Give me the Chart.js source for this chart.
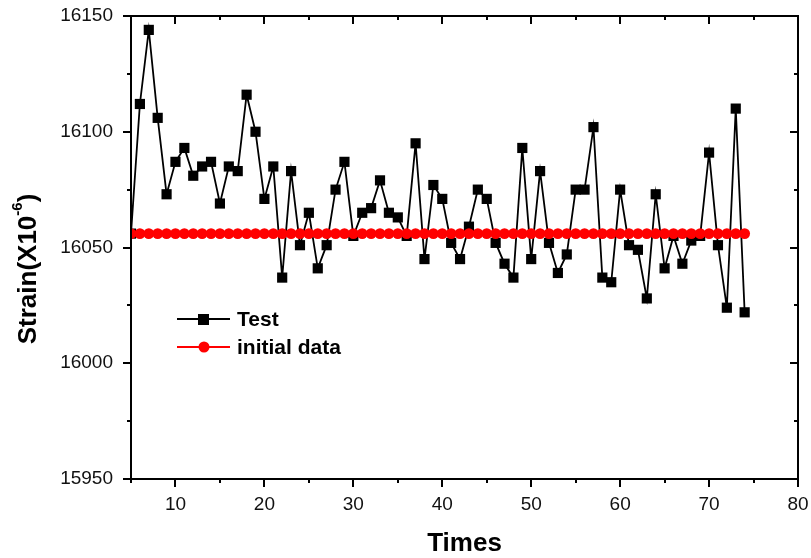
<!DOCTYPE html>
<html>
<head>
<meta charset="utf-8">
<script src="https://cdn.jsdelivr.net/npm/chart.js@4"></script>
<style>
  html, body { margin: 0; padding: 0; background: #fff; }
  #wrap { width: 811px; height: 558px; }
</style>
</head>
<body>
<div id="wrap"><canvas id="strainChart" width="811" height="558"></canvas></div>
<script>
// ── DATA ──
const times = [
   5,  6,  7,  8,  9, 10, 11, 12, 13, 14, 15, 16, 17, 18, 19, 20, 21, 22, 23, 24,
  25, 26, 27, 28, 29, 30, 31, 32, 33, 34, 35, 36, 37, 38, 39, 40, 41, 42, 43, 44,
  45, 46, 47, 48, 49, 50, 51, 52, 53, 54, 55, 56, 57, 58, 59, 60, 61, 62, 63, 64,
  65, 66, 67, 68, 69, 70, 71, 72, 73, 74
];

const testStrain = [
  16056, 16112, 16144, 16106, 16073, 16087, 16093, 16081, 16085, 16087,
  16069, 16085, 16083, 16116, 16100, 16071, 16085, 16037, 16083, 16051,
  16065, 16041, 16051, 16075, 16087, 16055, 16065, 16067, 16079, 16065,
  16063, 16055, 16095, 16045, 16077, 16071, 16052, 16045, 16059, 16075,
  16071, 16052, 16043, 16037, 16093, 16045, 16083, 16052, 16039, 16047,
  16075, 16075, 16102, 16037, 16035, 16075, 16051, 16049, 16028, 16073,
  16041, 16055, 16043, 16053, 16055, 16091, 16051, 16024, 16110, 16022
];

const initialStrain = [
  16056, 16056, 16056, 16056, 16056, 16056, 16056, 16056, 16056, 16056,
  16056, 16056, 16056, 16056, 16056, 16056, 16056, 16056, 16056, 16056,
  16056, 16056, 16056, 16056, 16056, 16056, 16056, 16056, 16056, 16056,
  16056, 16056, 16056, 16056, 16056, 16056, 16056, 16056, 16056, 16056,
  16056, 16056, 16056, 16056, 16056, 16056, 16056, 16056, 16056, 16056,
  16056, 16056, 16056, 16056, 16056, 16056, 16056, 16056, 16056, 16056,
  16056, 16056, 16056, 16056, 16056, 16056, 16056, 16056, 16056, 16056
];

const X_MIN = 5, X_MAX = 80, X_STEP = 10;
const Y_MIN = 15950, Y_MAX = 16150, Y_STEP = 50;
const seriesNames = ['Test', 'initial data'];

const FONT = "'Liberation Sans', Arial, sans-serif";

// ── FRAME, MINOR TICKS, TITLES, LEGEND ──
const framePlugin = {
  id: 'frame',
  afterDatasetsDraw(chart) {
    const { ctx, chartArea: a, scales: { x, y } } = chart;
    ctx.save();
    ctx.strokeStyle = '#000';
    ctx.lineWidth = 2;
    ctx.lineCap = 'square';
    ctx.strokeRect(a.left, a.top, a.right - a.left, a.bottom - a.top);

    ctx.lineCap = 'butt';
    ctx.beginPath();
    for (let v = X_MIN; v <= X_MAX; v += X_STEP / 2) {
      const px = Math.round(x.getPixelForValue(v));
      const len = v % X_STEP === 0 ? 8 : 4;
      ctx.moveTo(px, a.bottom); ctx.lineTo(px, a.bottom + len);   // outward
      ctx.moveTo(px, a.top);    ctx.lineTo(px, a.top + len);      // inward
    }
    for (let v = Y_MIN; v <= Y_MAX; v += Y_STEP / 2) {
      const py = Math.round(y.getPixelForValue(v));
      const len = v % Y_STEP === 0 ? 8 : 4;
      ctx.moveTo(a.left, py);  ctx.lineTo(a.left - len, py);      // outward
      ctx.moveTo(a.right, py); ctx.lineTo(a.right - len, py);     // inward
    }
    ctx.stroke();
    ctx.restore();
  },
  afterDraw(chart) {
    const { ctx, chartArea: a } = chart;
    ctx.save();
    ctx.fillStyle = '#000';

    // x title
    ctx.font = `bold 26px ${FONT}`;
    ctx.textAlign = 'center';
    ctx.textBaseline = 'alphabetic';
    ctx.fillText('Times', (a.left + a.right) / 2, 551);

    // y title with superscript
    const main = 'Strain(X10', sup = '-6', close = ')';
    ctx.font = `bold 26px ${FONT}`;
    const w1 = ctx.measureText(main).width;
    const w3 = ctx.measureText(close).width;
    ctx.font = `bold 15px ${FONT}`;
    const w2 = ctx.measureText(sup).width;
    const total = w1 + w2 + w3;
    ctx.translate(0, 269);
    ctx.rotate(-Math.PI / 2);
    ctx.textAlign = 'left';
    let u = -total / 2;
    ctx.font = `bold 26px ${FONT}`;
    ctx.fillText(main, u, 36);
    u += w1;
    ctx.font = `bold 15px ${FONT}`;
    ctx.fillText(sup, u, 22);
    u += w2;
    ctx.font = `bold 26px ${FONT}`;
    ctx.fillText(close, u, 36);
    ctx.setTransform(1, 0, 0, 1, 0, 0);

    // legend
    const rows = [
      { y: 319, color: '#000', style: 'rect', text: seriesNames[0], base: 326 },
      { y: 347, color: '#ff0000', style: 'circle', text: seriesNames[1], base: 354 },
    ];
    rows.forEach(r => {
      ctx.strokeStyle = r.color;
      ctx.fillStyle = r.color;
      ctx.lineWidth = 2;
      ctx.beginPath();
      ctx.moveTo(177, r.y); ctx.lineTo(230, r.y);
      ctx.stroke();
      if (r.style === 'rect') {
        ctx.fillRect(198, r.y - 5, 11, 11);
      } else {
        ctx.beginPath();
        ctx.arc(204, r.y, 5.5, 0, Math.PI * 2);
        ctx.fill();
      }
      ctx.fillStyle = '#000';
      ctx.font = `bold 21px ${FONT}`;
      ctx.textAlign = 'left';
      ctx.fillText(r.text, 237, r.base);
    });
    ctx.restore();
  }
};

// ── CHART ──
new Chart(document.getElementById('strainChart'), {
  type: 'line',
  data: {
    datasets: [
      {
        label: seriesNames[1],
        data: times.map((t, i) => ({ x: t, y: initialStrain[i] })),
        borderColor: '#ff0000',
        backgroundColor: '#ff0000',
        borderWidth: 2,
        pointStyle: 'circle',
        pointRadius: 5.4,
        pointBorderWidth: 0,
        tension: 0,
        order: 0,
      },
      {
        label: seriesNames[0],
        data: times.map((t, i) => ({ x: t, y: testStrain[i] })),
        borderColor: '#000',
        backgroundColor: '#000',
        borderWidth: 1.8,
        pointStyle: 'rect',
        pointRadius: 7.2,
        pointBorderWidth: 0,
        tension: 0,
        order: 1,
      }
    ]
  },
  options: {
    responsive: false,
    animation: false,
    events: [],
    layout: { padding: { top: 16, right: 13, left: 0, bottom: 0 } },
    plugins: {
      legend: { display: false },
      tooltip: { enabled: false },
    },
    scales: {
      x: {
        type: 'linear',
        min: X_MIN, max: X_MAX,
        grid: { display: false, drawTicks: false },
        border: { display: false },
        ticks: {
          stepSize: X_STEP,
          padding: 14,
          color: '#111',
          font: { family: FONT, size: 19 },
          maxRotation: 0,
          callback: v => (v % X_STEP === 0 ? String(v) : ''),
        },
        afterFit: s => {
          s.height = 79;
          s.paddingLeft = 0; s.paddingRight = 0;
        },
      },
      y: {
        min: Y_MIN, max: Y_MAX,
        grid: { display: false, drawTicks: false },
        border: { display: false },
        ticks: {
          stepSize: Y_STEP,
          padding: 18,
          color: '#111',
          font: { family: FONT, size: 19 },
          callback: v => String(v),
        },
        afterFit: s => {
          s.width = 131;
          s.paddingTop = 0; s.paddingBottom = 0;
        },
      }
    }
  },
  plugins: [framePlugin]
});
</script>
</body>
</html>
